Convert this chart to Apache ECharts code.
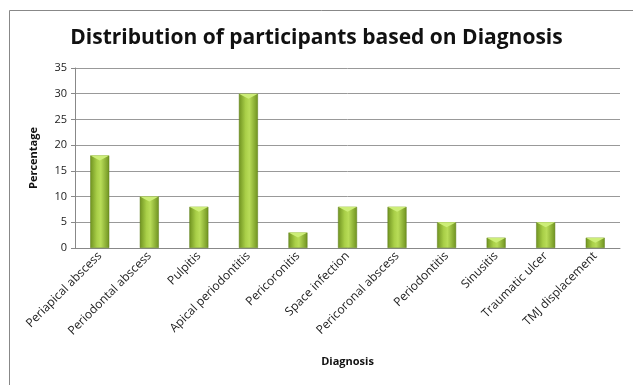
<!DOCTYPE html>
<html>
<head>
<meta charset="utf-8">
<script src="https://cdn.jsdelivr.net/npm/echarts@6/dist/echarts.min.js"></script>
<style>
html, body { margin: 0; padding: 0; background: #fff; }
#main { width: 633px; height: 385px; }
</style>
</head>
<body>
<div id="main"></div>
<script>
// categories and values
var diagnoses = ['Periapical abscess', 'Periodontal abscess', 'Pulpitis', 'Apical periodontitis',
  'Pericoronitis', 'Space infection', 'Pericoronal abscess', 'Periodontitis', 'Sinusitis',
  'Traumatic ulcer', 'TMJ displacement'];
var percentages = [18, 10, 8, 30, 3, 8, 8, 5, 2, 5, 2];

var myChart = echarts.init(document.getElementById('main'));

var barColor = new echarts.graphic.LinearGradient(0, 0, 1, 0, [
  { offset: 0, color: '#6f9220' },
  { offset: 0.35, color: '#a9cf48' },
  { offset: 0.55, color: '#b8dc58' },
  { offset: 1, color: '#6f9220' }
]);

option = {
  backgroundColor: '#fff',
  animation: false,
  title: {
    text: 'Distribution of participants based on Diagnosis',
    left: 'center',
    top: 23,
    textStyle: { fontFamily: 'Open Sans', fontSize: 21, fontWeight: 'bold', color: '#111' }
  },
  graphic: [{
    type: 'rect',
    shape: { x: 9.5, y: 10.5, width: 640, height: 400 },
    style: { fill: 'none', stroke: '#888', lineWidth: 1 }
  }],
  grid: { left: 75, right: 13, top: 68, bottom: 137 },
  xAxis: {
    type: 'category',
    data: diagnoses,
    name: 'Diagnosis',
    nameLocation: 'middle',
    nameGap: 108,
    nameTextStyle: { fontFamily: 'Open Sans', fontSize: 11, fontWeight: 'bold', color: '#111' },
    axisLine: { lineStyle: { color: '#888' } },
    axisTick: { show: false },
    axisLabel: { rotate: 45, interval: 0, fontFamily: 'Open Sans', fontSize: 12, color: '#222', margin: 6 }
  },
  yAxis: {
    type: 'value',
    min: 0,
    max: 35,
    interval: 5,
    name: 'Percentage',
    nameLocation: 'middle',
    nameGap: 36,
    nameTextStyle: { fontFamily: 'Open Sans', fontSize: 11, fontWeight: 'bold', color: '#111' },
    axisLine: { show: true, lineStyle: { color: '#888' } },
    axisTick: { show: true, length: 4, lineStyle: { color: '#888' } },
    axisLabel: { fontFamily: 'Open Sans', fontSize: 11, color: '#222', margin: 8 },
    splitLine: { lineStyle: { color: '#999' } }
  },
  series: [{
    type: 'bar',
    data: percentages,
    barWidth: 19,
    itemStyle: { color: barColor, borderColor: '#5f7e1a', borderWidth: 0.5 }
  }, {
    // light top cap of each bar
    type: 'pictorialBar',
    data: percentages,
    symbol: 'triangle',
    symbolSize: [19, 5],
    symbolPosition: 'end',
    symbolOffset: [0, 0],
    symbolRotate: 180,
    z: 3,
    itemStyle: { color: '#cdee78' }
  }]
};

myChart.setOption(option, true);
</script>
</body>
</html>
